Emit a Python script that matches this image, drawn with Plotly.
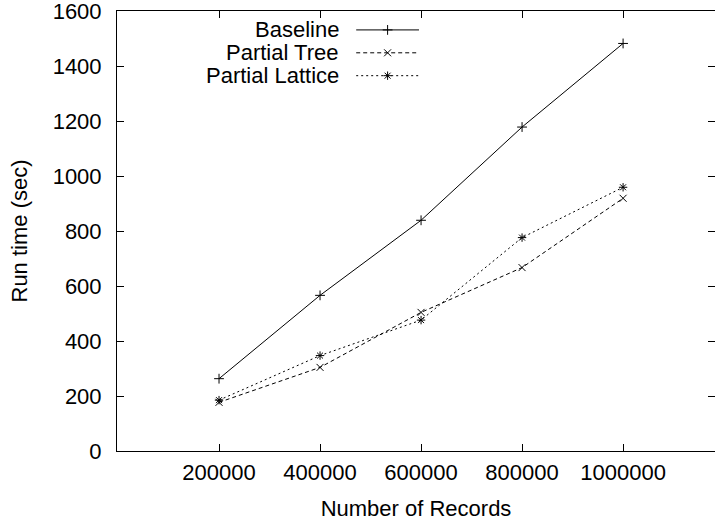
import plotly.graph_objects as go

records = [200000, 400000, 600000, 800000, 1000000]
baseline = [263, 566, 839, 1178, 1482]
partial_tree = [177, 304, 504, 667, 919]
partial_lattice = [185, 347, 476, 776, 959]
y_ticks = [0, 200, 400, 600, 800, 1000, 1200, 1400, 1600]

series = [
    ("Baseline", baseline, "solid", "cross-thin-open"),
    ("Partial Tree", partial_tree, "4px,3px", "x-thin-open"),
    ("Partial Lattice", partial_lattice, "2px,3px", "asterisk-open"),
]

FONT = dict(family="Liberation Sans, Arial, sans-serif", size=22, color="black")

fig = go.Figure()
for name, vals, dash, sym in series:
    fig.add_trace(go.Scatter(
        x=records, y=vals, mode="lines+markers", name=name,
        line=dict(color="black", width=1, dash=dash),
        marker=dict(symbol=sym, size=7, color="black", line=dict(width=1, color="black")),
        showlegend=False,
    ))

# gnuplot-style legend: text right-aligned, sample line to the right
leg_y = [0.957, 0.905, 0.853]
for (name, vals, dash, sym), ly in zip(series, leg_y):
    fig.add_trace(go.Scatter(
        x=[0.40, 0.505], y=[ly, ly], mode="lines", xaxis="x2", yaxis="y2",
        line=dict(color="black", width=1, dash=dash), showlegend=False, hoverinfo="skip",
    ))
    fig.add_trace(go.Scatter(
        x=[0.4525], y=[ly], mode="markers", xaxis="x2", yaxis="y2",
        marker=dict(symbol=sym, size=7, color="black", line=dict(width=1, color="black")),
        showlegend=False, hoverinfo="skip",
    ))
    fig.add_annotation(x=0.375, y=ly, xref="x2", yref="y2", text=name, showarrow=False,
                       xanchor="right", yanchor="middle", font=FONT)

fig.update_layout(
    width=715, height=522,
    margin=dict(l=117, r=0, t=11, b=71),
    paper_bgcolor="white", plot_bgcolor="white",
    font=FONT,
    xaxis=dict(
        range=[-2000, 1182000], tickvals=records, ticktext=[str(r) for r in records],
        ticks="inside", ticklen=7, tickcolor="black", showline=True, linecolor="black",
        linewidth=1, mirror="allticks", showgrid=False, zeroline=False,
        title=dict(text="Number of Records", font=FONT, standoff=16),
        tickfont=FONT, ticklabelstandoff=2, ticklabeloverflow="allow",
    ),
    yaxis=dict(
        range=[0, 1600], tickvals=y_ticks, ticktext=[str(v) for v in y_ticks],
        ticks="inside", ticklen=7, tickcolor="black", showline=True, linecolor="black",
        linewidth=1, mirror="allticks", showgrid=False, zeroline=False,
        title=dict(text="Run time (sec)", font=FONT, standoff=18),
        tickfont=FONT, ticklabelstandoff=10, ticklabeloverflow="allow",
    ),
    xaxis2=dict(range=[0, 1], overlaying="x", visible=False, fixedrange=True),
    yaxis2=dict(range=[0, 1], overlaying="y", visible=False, fixedrange=True),
)

fig.write_html("out.html")
